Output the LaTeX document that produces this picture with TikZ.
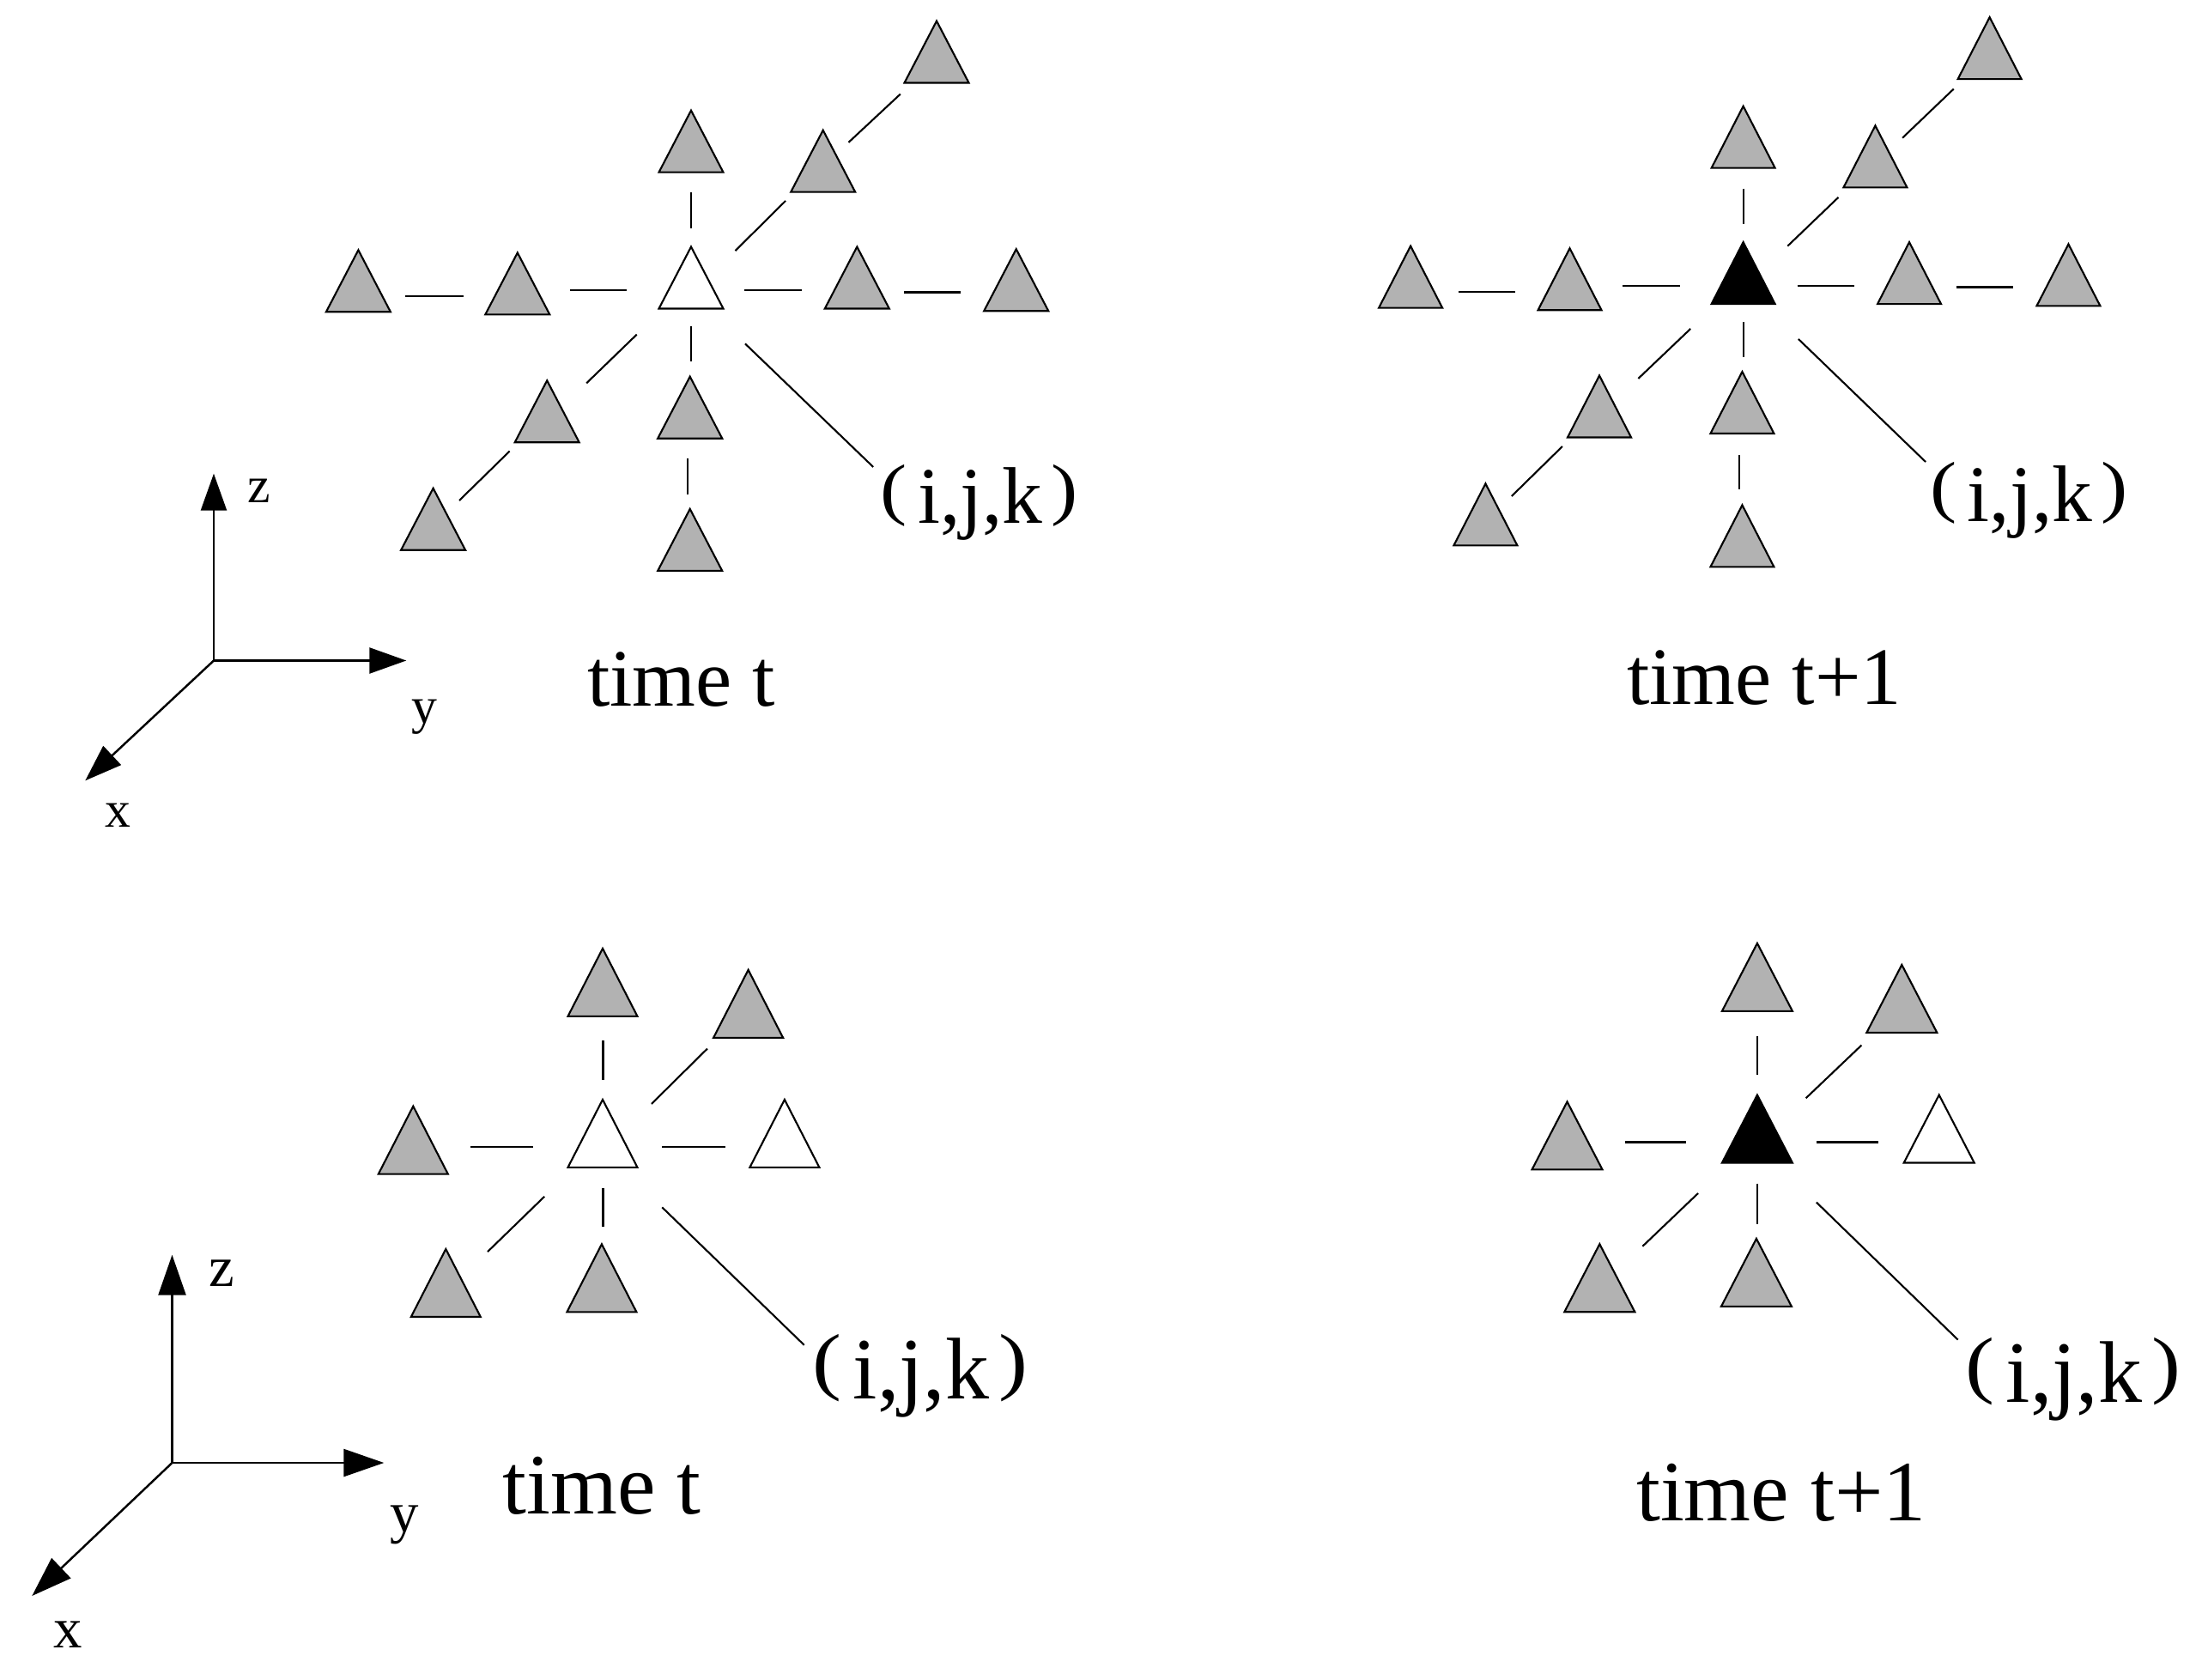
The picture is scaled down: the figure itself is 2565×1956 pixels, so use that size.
\documentclass[tikz,border=0pt]{standalone}
\usepackage{fontspec}
\setmainfont{Liberation Serif}
\usetikzlibrary{arrows.meta}
\definecolor{trigray}{RGB}{178,178,178}
\tikzset{
  triline/.style={draw=black, line width=0.6pt, line join=miter},
  conn/.style={draw=black, line width=0.6pt},
  thickconn/.style={draw=black, line width=0.85pt},
  axis/.style={draw=black, line width=0.7pt},
  topaxis/.style={axis, -{Triangle[length=4.3mm,width=3mm]}},
  botaxis/.style={axis, -{Triangle[length=4.7mm,width=3.2mm]}},
  lbl/.style={inner sep=0pt, anchor=base},
}
% name, apex x, apex y, width, height, fill
\newcommand{\tri}[6]{%
  \draw[triline, fill=#6] (#2,#3) -- ++(-#4/2,#5) -- ++(#4,0) -- cycle;
  \coordinate (#1) at (#2,#3+2*#5/3);}
\newcommand{\ijk}[1]{{\fontsize{#1}{#1}\selectfont\raisebox{0.14em}{\scalebox{1}[0.85]{(}}\hspace{0.13em}i,j,k\hspace{0.11em}\raisebox{0.14em}{\scalebox{1}[0.85]{)}}}}
\begin{document}
\begin{tikzpicture}[x=0.1mm, y=-0.1mm]
\useasboundingbox (0,0) rectangle (2565,1956);

% ---------------- top-left: time t ----------------
\tri{aU}{805}{128.7}{75}{72}{trigray}
\tri{aUR1}{958.7}{151.7}{75}{72}{trigray}
\tri{aUR2}{1091}{24.5}{75}{72}{trigray}
\tri{aC}{805}{287.5}{75}{72}{white}
\tri{aL2}{417.4}{291.3}{75}{72}{trigray}
\tri{aL1}{602.8}{294.4}{75}{72}{trigray}
\tri{aR1}{998.3}{287.5}{75}{72}{trigray}
\tri{aR2}{1183.7}{290.2}{75}{72}{trigray}
\tri{aDL1}{637.2}{443.3}{75}{72}{trigray}
\tri{aD1}{803.7}{438.7}{75}{72}{trigray}
\tri{aDL2}{504.6}{568.8}{75}{72}{trigray}
\tri{aD2}{803.7}{592.9}{75}{72}{trigray}
\draw[conn] (805,224.4) -- (805,266.5);
\draw[conn] (856.5,292.1) -- (915,234);
\draw[conn] (988.5,165.8) -- (1048.8,109.6);
\draw[conn] (472,345) -- (539.7,345);
\draw[conn] (664.2,338) -- (730.2,338);
\draw[conn] (866.8,338) -- (934,338);
\draw[thickconn] (1052.8,340.3) -- (1119.4,340.3);
\draw[conn] (741.7,389.7) -- (683.2,446.3);
\draw[conn] (805,380.5) -- (805,420.7);
\draw[conn] (593.6,525.6) -- (535,583);
\draw[conn] (801.4,533.6) -- (801.4,575.7);
\coordinate (aEnd) at (1017.2,544);
\draw[conn] (868,400.4) -- (aEnd);
\node[lbl] (aLab) at (1141,610) {\ijk{26.6pt}};
\node[lbl] (aTime) at (793.5,822) {\fontsize{27pt}{27pt}\selectfont time t};

% ---------------- top-right: time t+1 ----------------
\tri{bUR2}{2317.6}{20.1}{74}{72}{trigray}
\tri{bU}{2030.6}{123.7}{74}{72}{trigray}
\tri{bUR1}{2184.4}{146.4}{74}{72}{trigray}
\tri{bL2}{1643.1}{286.6}{74}{72}{trigray}
\tri{bL1}{1828.5}{289.3}{74}{72}{trigray}
\tri{bC}{2030.6}{282.1}{74}{72}{black}
\tri{bR1}{2224}{282.1}{74}{72}{trigray}
\tri{bR2}{2409.4}{284.4}{74}{72}{trigray}
\tri{bDL1}{1863}{437.5}{74}{72}{trigray}
\tri{bD1}{2029.4}{433}{74}{72}{trigray}
\tri{bDL2}{1730.4}{563.4}{74}{72}{trigray}
\tri{bD2}{2029.4}{588.4}{74}{72}{trigray}
\draw[conn] (2030.6,219.6) -- (2030.6,261.2);
\draw[conn] (2082.3,286.6) -- (2141.4,229.9);
\draw[conn] (2216,160.7) -- (2275.7,103.6);
\draw[conn] (1698.8,340.2) -- (1765.4,340.2);
\draw[conn] (1890,332.6) -- (1957.1,332.6);
\draw[conn] (2093.7,332.6) -- (2159.7,332.6);
\draw[thickconn] (2278.6,334.8) -- (2345.1,334.8);
\draw[conn] (1969.2,383) -- (1908.3,441);
\draw[conn] (2030.6,375) -- (2030.6,416);
\draw[conn] (1819.9,520) -- (1760.8,578);
\draw[conn] (2026,529.9) -- (2026,570);
\coordinate (bEnd) at (2243,538);
\draw[conn] (2094.9,395) -- (bEnd);
\node[lbl] (bLab) at (2363.5,607) {\ijk{26.6pt}};
\node[lbl] (bTime) at (2055,820) {\fontsize{27pt}{27pt}\selectfont time t+1};

% ---------------- bottom-left: time t ----------------
\tri{cU}{702}{1104.9}{81}{79}{trigray}
\tri{cUR}{871.6}{1129.8}{81}{79}{trigray}
\tri{cL}{481.3}{1288.6}{81}{79}{trigray}
\tri{cC}{702}{1280.9}{81}{79}{white}
\tri{cR}{913.9}{1280.9}{81}{79}{white}
\tri{cDL}{519.3}{1455}{81}{79}{trigray}
\tri{cD}{700.9}{1449.3}{81}{79}{trigray}
\draw[conn] (702.5,1212) -- (702.5,1258);
\draw[conn] (758.9,1285.9) -- (823.9,1221.6);
\draw[conn] (548,1336.4) -- (621.2,1336.4);
\draw[conn] (771.3,1336.4) -- (844.5,1336.4);
\draw[conn] (634.2,1393.8) -- (568,1458.1);
\draw[conn] (702.5,1383.5) -- (702.5,1429.4);
\coordinate (cEnd) at (936.7,1566.8);
\draw[conn] (771.3,1406.4) -- (cEnd);
\node[lbl] (cLab) at (1072,1629) {\ijk{29pt}};
\node[lbl] (cTime) at (701,1763) {\fontsize{28.5pt}{28.5pt}\selectfont time t};

% ---------------- bottom-right: time t+1 ----------------
\tri{dU}{2046.9}{1098.8}{82}{79}{trigray}
\tri{dUR}{2215.3}{1123.9}{82}{79}{trigray}
\tri{dL}{1825.5}{1283.4}{82}{79}{trigray}
\tri{dC}{2046.9}{1275.5}{82}{79}{black}
\tri{dR}{2258.7}{1275.5}{82}{79}{white}
\tri{dDL}{1863.3}{1449.2}{82}{79}{trigray}
\tri{dD}{2045.9}{1442.9}{82}{79}{trigray}
\draw[conn] (2046.9,1207) -- (2046.9,1252);
\draw[conn] (2103.6,1279.2) -- (2168.4,1217.5);
\draw[conn] (1892.9,1330.5) -- (1964.3,1330.5);
\draw[conn] (2115.8,1330.5) -- (2187.8,1330.5);
\draw[conn] (1978,1390) -- (1913.3,1451.8);
\draw[conn] (2046.9,1378.6) -- (2046.9,1425.6);
\coordinate (dEnd) at (2280.6,1560.6);
\draw[conn] (2115.8,1400.5) -- (dEnd);
\node[lbl] (dLab) at (2415,1633) {\ijk{29pt}};
\node[lbl] (dTime) at (2075,1771) {\fontsize{28.5pt}{28.5pt}\selectfont time t+1};

% ---------------- axes, top ----------------
\coordinate (O1) at (249,769.5);
\coordinate (Z1) at (249,551.7);
\coordinate (Y1) at (473.3,769.5);
\coordinate (X1) at (99.3,909.3);
\draw[topaxis] (O1) -- (Z1);
\draw[topaxis] (O1) -- (Y1);
\draw[topaxis] (O1) -- (X1);
\node[lbl] (z1) at (301.3,585) {\fontsize{17pt}{17pt}\selectfont z};
\node[lbl] (y1) at (494.7,842) {\fontsize{17pt}{17pt}\selectfont y};
\node[lbl] (x1) at (137.2,963) {\fontsize{17pt}{17pt}\selectfont x};

% ---------------- axes, bottom ----------------
\coordinate (O2) at (200.5,1704);
\coordinate (Z2) at (200.5,1461.7);
\coordinate (Y2) at (447.3,1704);
\coordinate (X2) at (37.3,1859);
\draw[botaxis] (O2) -- (Z2);
\draw[botaxis] (O2) -- (Y2);
\draw[botaxis] (O2) -- (X2);
\node[lbl] (z2) at (258.3,1498) {\fontsize{19pt}{19pt}\selectfont z};
\node[lbl] (y2) at (470.8,1784) {\fontsize{19pt}{19pt}\selectfont y};
\node[lbl] (x2) at (79,1919) {\fontsize{19pt}{19pt}\selectfont x};
\end{tikzpicture}
\end{document}
